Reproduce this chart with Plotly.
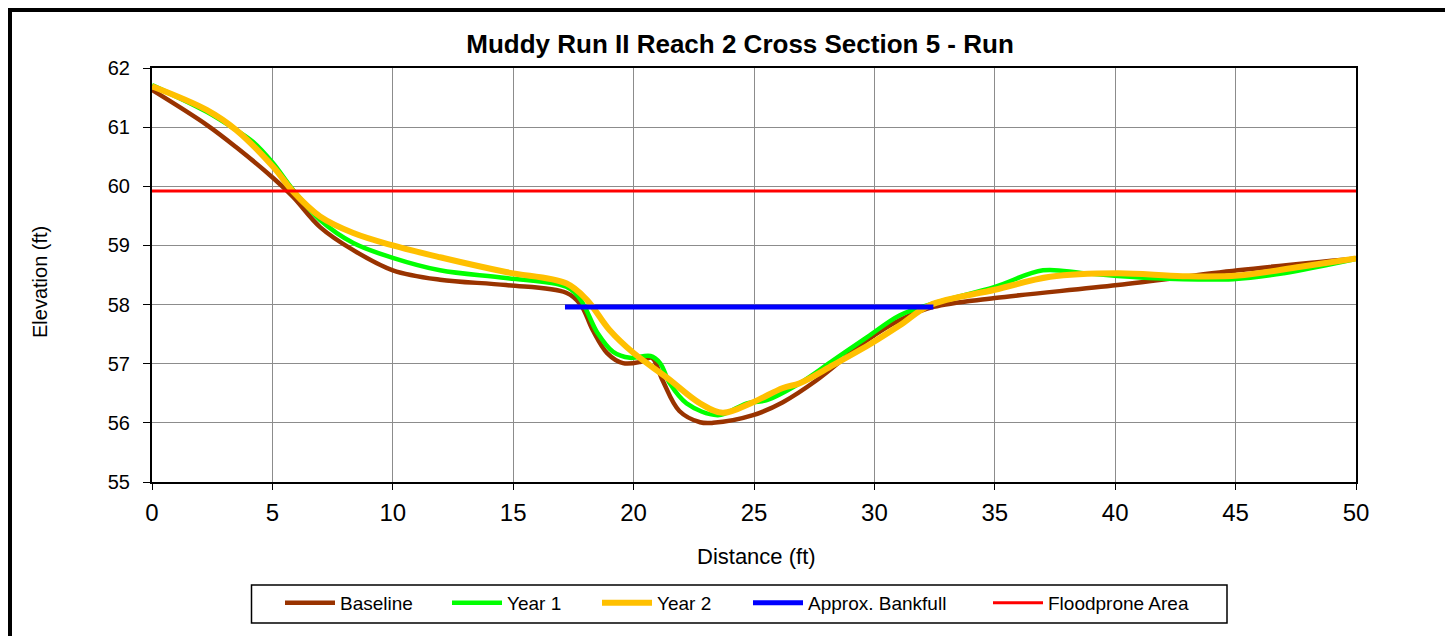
import plotly.graph_objects as go

# ---------------- data ----------------
baseline_x = [0, 2.27, 3.5, 5.03, 5.86, 6.98, 8.36, 10.0, 11.96, 14.7, 17.2, 17.8, 18.3, 18.9, 19.56, 20.27, 20.76, 21.2, 21.9, 22.76, 23.3, 24.96, 26.2, 27.6, 29.7, 31.06, 32.45, 35.0, 40.1, 45.1, 50.0]
baseline_y = [61.63, 61.04, 60.66, 60.14, 59.82, 59.31, 58.92, 58.58, 58.42, 58.33, 58.2, 58.0, 57.57, 57.18, 57.01, 57.03, 57.1, 56.72, 56.2, 56.01, 56.0, 56.13, 56.35, 56.72, 57.4, 57.74, 57.96, 58.11, 58.33, 58.58, 58.78]

year1_x = [0, 2.27, 3.5, 4.2, 5.03, 5.86, 6.98, 8.36, 10.0, 11.96, 14.7, 17.2, 17.8, 18.5, 19.15, 19.85, 20.7, 21.1, 21.5, 22.2, 23.5, 24.7, 25.5, 26.9, 28.3, 29.7, 31.06, 32.45, 35.0, 37.0, 38.7, 41.4, 44.9, 47.0, 50.0]
year1_y = [61.71, 61.26, 60.95, 60.75, 60.39, 59.94, 59.43, 59.04, 58.79, 58.58, 58.45, 58.3, 58.08, 57.52, 57.2, 57.1, 57.13, 57.01, 56.67, 56.33, 56.13, 56.33, 56.38, 56.67, 57.06, 57.45, 57.82, 58.02, 58.3, 58.58, 58.53, 58.45, 58.43, 58.53, 58.77]

year2_x = [0, 2.27, 3.5, 5.03, 5.86, 6.98, 8.36, 10.0, 11.96, 14.7, 17.2, 18.06, 19.0, 20.0, 21.4, 22.76, 23.7, 24.96, 26.2, 26.9, 28.3, 29.9, 31.06, 32.3, 35.0, 37.3, 40.1, 42.8, 45.1, 47.7, 50.0]
year2_y = [61.69, 61.29, 60.95, 60.33, 59.91, 59.49, 59.21, 59.0, 58.8, 58.55, 58.36, 58.08, 57.57, 57.18, 56.76, 56.33, 56.17, 56.35, 56.59, 56.67, 56.98, 57.35, 57.65, 57.99, 58.25, 58.47, 58.53, 58.48, 58.49, 58.64, 58.78]

bankfull_x = [17.15, 32.45]
bankfull_y = [57.96, 57.96]

floodprone_x = [0, 50]
floodprone_y = [59.92, 59.92]

x_ticks = [0, 5, 10, 15, 20, 25, 30, 35, 40, 45, 50]
y_ticks = [55, 56, 57, 58, 59, 60, 61, 62]

FONT = "Liberation Sans, Arial, sans-serif"

# ---------------- geometry helpers (screen pixel -> paper) ----------------
OFF = 8  # default page body margin
W, H = 1453 - OFF, 636 - OFF
SL, SR, ST, SB = 152, 1356, 68, 482  # plot area in screen pixels


def px(xs):
    return (xs - SL) / (SR - SL)


def py(ys):
    return (SB - ys) / (SB - ST)


fig = go.Figure()

series = [
    ("Baseline", baseline_x, baseline_y, "#993300", 4.5, "spline", "legend"),
    ("Year 1", year1_x, year1_y, "#00FF00", 4.5, "spline", "legend2"),
    ("Year 2", year2_x, year2_y, "#FFC000", 6, "spline", "legend3"),
    ("Approx. Bankfull", bankfull_x, bankfull_y, "#0000FF", 5, "linear", "legend4"),
    ("Floodprone Area", floodprone_x, floodprone_y, "#FF0000", 3, "linear", "legend5"),
]

for name, xs, ys, color, width, shape, lg in series:
    fig.add_trace(go.Scatter(
        x=xs, y=ys, name=name, mode="lines",
        line=dict(color=color, width=width, shape=shape, smoothing=1.0),
        legend=lg,
    ))

# legend item positions (line start, screen pixel)
legend_starts = [285, 452, 602, 753, 993]
legend_y = py(603)
leg_common = dict(
    orientation="h", xanchor="left", yanchor="middle",
    font=dict(family=FONT, size=19, color="black"),
    bgcolor="rgba(0,0,0,0)", borderwidth=0, itemwidth=50,
)
layout_legends = {}
for i, xs in enumerate(legend_starts):
    key = "legend" if i == 0 else f"legend{i+1}"
    layout_legends[key] = dict(leg_common, x=px(xs - 5), y=legend_y)

fig.update_layout(
    width=W, height=H,
    margin=dict(l=SL - OFF, r=W - (SR - OFF), t=ST - OFF, b=H - (SB - OFF)),
    paper_bgcolor="white", plot_bgcolor="white",
    font=dict(family=FONT, color="black"),
    title=dict(
        text="<b>Muddy Run II Reach 2 Cross Section 5 - Run</b>",
        font=dict(family=FONT, size=26, color="black"),
        x=px(740), xref="paper", xanchor="center",
        y=1 - (44 - OFF) / H, yref="container", yanchor="middle",
    ),
    showlegend=True,
    **layout_legends,
)

fig.update_xaxes(
    range=[0, 50], tickvals=x_ticks, ticktext=[str(v) for v in x_ticks],
    showgrid=True, gridcolor="#8c8c8c", gridwidth=1,
    showline=True, linecolor="black", linewidth=2, mirror=True,
    ticks="outside", ticklen=6, tickcolor="black", tickwidth=1,
    tickfont=dict(family=FONT, size=24, color="black"),
    ticklabelstandoff=2, zeroline=False,
)
fig.update_yaxes(
    range=[55, 62], tickvals=y_ticks, ticktext=[str(v) for v in y_ticks],
    showgrid=True, gridcolor="#8c8c8c", gridwidth=1,
    showline=True, linecolor="black", linewidth=2, mirror=True,
    ticks="outside", ticklen=7, tickcolor="black", tickwidth=1,
    tickfont=dict(family=FONT, size=20, color="black"),
    ticklabelstandoff=9, zeroline=False,
)

# axis titles
fig.add_annotation(text="Distance (ft)", xref="paper", yref="paper",
                   x=px(756), y=py(556), showarrow=False,
                   xanchor="center", yanchor="middle",
                   font=dict(family=FONT, size=22, color="black"))
fig.add_annotation(text="Elevation (ft)", xref="paper", yref="paper",
                   x=px(40), y=py(282), showarrow=False, textangle=-90,
                   xanchor="center", yanchor="middle",
                   font=dict(family=FONT, size=20, color="black"))

# legend frame
fig.add_shape(type="rect", xref="paper", yref="paper",
              x0=px(251.5), x1=px(1227), y0=py(585), y1=py(623),
              line=dict(color="black", width=1.5), fillcolor="rgba(0,0,0,0)")

# outer chart frame (top and left edges visible)
fig.add_shape(type="line", xref="paper", yref="paper",
              x0=px(8), x1=px(1470), y0=py(10), y1=py(10),
              line=dict(color="black", width=4))
fig.add_shape(type="line", xref="paper", yref="paper",
              x0=px(10), x1=px(10), y0=py(8), y1=py(660),
              line=dict(color="black", width=4))

fig.write_html("out.html")
